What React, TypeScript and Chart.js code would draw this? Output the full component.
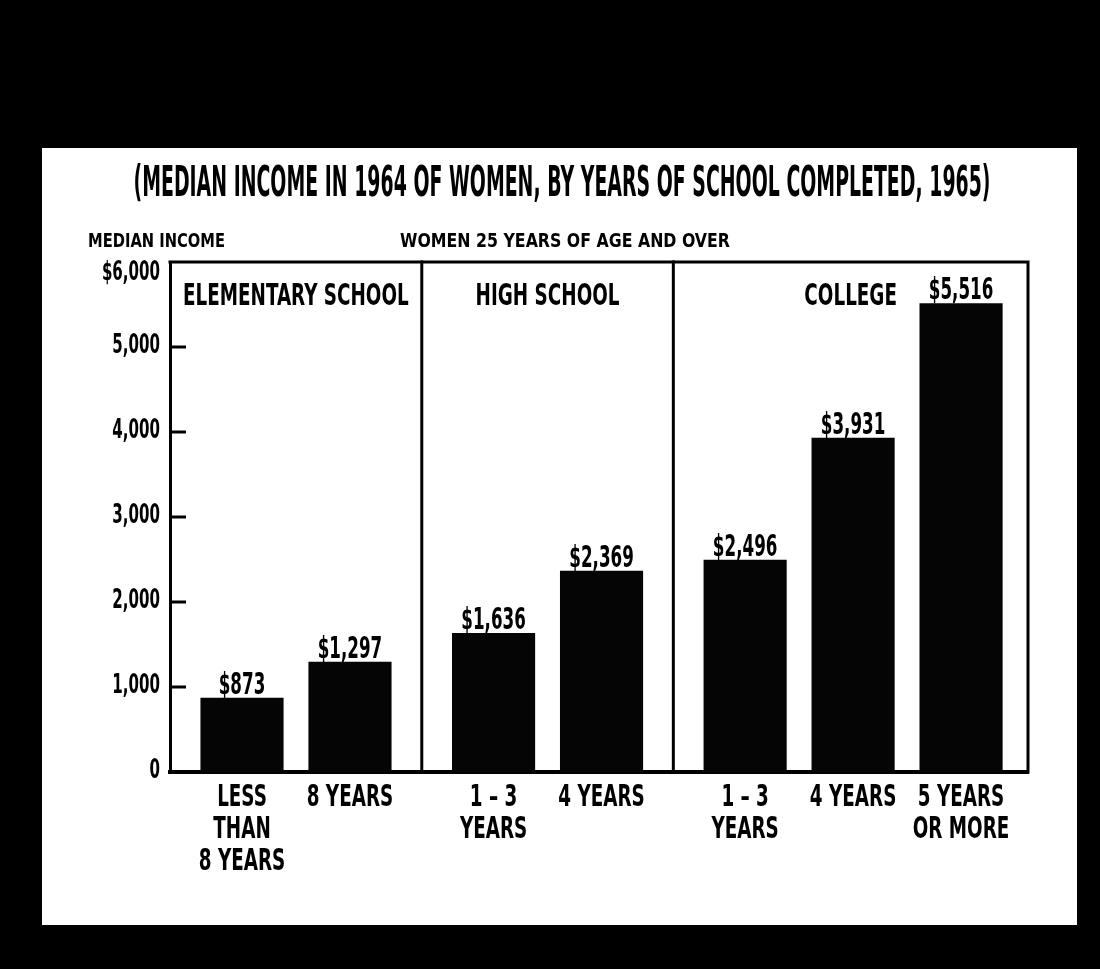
import React, { useEffect, useRef } from "react";
import { Chart, registerables } from "chart.js";

Chart.register(...registerables);

const TITLE = "(MEDIAN INCOME IN 1964 OF WOMEN, BY YEARS OF SCHOOL COMPLETED, 1965)";
const Y_AXIS_TITLE = "MEDIAN INCOME";
const SUBTITLE = "WOMEN 25 YEARS OF AGE AND OVER";
const GROUP_NAMES = ["ELEMENTARY SCHOOL", "HIGH SCHOOL", "COLLEGE"];
const CATEGORY_GROUP = [0, 0, 1, 1, 2, 2, 2];
const CATEGORY_LABELS = [
  ["LESS", "THAN", "8 YEARS"],
  ["8 YEARS"],
  ["1 – 3", "YEARS"],
  ["4 YEARS"],
  ["1 – 3", "YEARS"],
  ["4 YEARS"],
  ["5 YEARS", "OR MORE"],
];
const INCOME = [873, 1297, 1636, 2369, 2496, 3931, 5516];
const VALUE_LABELS = ["$873", "$1,297", "$1,636", "$2,369", "$2,496", "$3,931", "$5,516"];
const Y_TICKS = [0, 1000, 2000, 3000, 4000, 5000, 6000];
const Y_TICK_LABELS = ["0", "1,000", "2,000", "3,000", "4,000", "5,000", "$6,000"];

const GROUP_GAP = 0.33;
const FONT = '"Liberation Sans Narrow", "DejaVu Sans Condensed", "Liberation Sans", sans-serif';

const xPos = CATEGORY_GROUP.map((g, i) => i + g * GROUP_GAP);

function drawText(
  ctx: CanvasRenderingContext2D,
  text: string,
  x: number,
  y: number,
  size: number,
  align: CanvasTextAlign,
  sx = 1,
  width?: number
) {
  ctx.save();
  ctx.font = `bold ${size}px ${FONT}`;
  const w = ctx.measureText(text).width;
  const s = width ? width / w : sx;
  ctx.translate(x, y);
  ctx.scale(s, 1);
  ctx.textAlign = align;
  ctx.textBaseline = "alphabetic";
  ctx.fillStyle = "#000";
  ctx.fillText(text, 0, 0);
  ctx.restore();
}

const decorPlugin = {
  id: "decor",
  afterDatasetsDraw(chart: any) {
    const ctx: CanvasRenderingContext2D = chart.ctx;
    const { left, right, top, bottom } = chart.chartArea;
    const xs = chart.scales.x;
    const ys = chart.scales.y;

    // titles
    drawText(ctx, TITLE, 562, 196, 42, "center", 1, 857);
    drawText(ctx, Y_AXIS_TITLE, 88, 247, 19, "left", 1, 137);
    drawText(ctx, SUBTITLE, 400, 247, 19, "left", 1, 330);

    ctx.save();
    ctx.strokeStyle = "#000";
    ctx.lineCap = "square";
    // frame top and right
    ctx.lineWidth = 3;
    ctx.beginPath();
    ctx.moveTo(left, top);
    ctx.lineTo(right, top);
    ctx.lineTo(right, bottom);
    ctx.stroke();

    // group dividers
    const bounds: number[] = [left];
    for (let g = 1; g < GROUP_NAMES.length; g++) {
      const lastPrev = CATEGORY_GROUP.lastIndexOf(g - 1);
      const firstNext = CATEGORY_GROUP.indexOf(g);
      const px = xs.getPixelForValue((xPos[lastPrev] + xPos[firstNext]) / 2);
      bounds.push(px);
      ctx.beginPath();
      ctx.moveTo(px, top);
      ctx.lineTo(px, bottom);
      ctx.stroke();
    }
    bounds.push(right);

    // inner tick marks
    ctx.lineWidth = 3;
    ctx.lineCap = "butt";
    Y_TICKS.forEach((v) => {
      if (v === 0 || v === Y_TICKS[Y_TICKS.length - 1]) return;
      const py = ys.getPixelForValue(v);
      ctx.beginPath();
      ctx.moveTo(left, py);
      ctx.lineTo(left + 16, py);
      ctx.stroke();
    });
    ctx.restore();

    // y tick labels
    Y_TICKS.forEach((v, i) => {
      const py = ys.getPixelForValue(v);
      const base = Math.max(py + 6, top + 18);
      drawText(ctx, Y_TICK_LABELS[i], left - 10, base, 27, "right", 0.62);
    });

    // x category labels
    xPos.forEach((p, i) => {
      const px = xs.getPixelForValue(p);
      CATEGORY_LABELS[i].forEach((line, j) => {
        drawText(ctx, line, px, bottom + 34 + j * 32, 30, "center", 0.68);
      });
    });

    // group labels
    GROUP_NAMES.forEach((name, g) => {
      drawText(ctx, name, (bounds[g] + bounds[g + 1]) / 2, top + 43, 30, "center", 0.68);
    });

    // value labels
    const meta = chart.getDatasetMeta(0);
    meta.data.forEach((bar: any, i: number) => {
      drawText(ctx, VALUE_LABELS[i], bar.x, bar.y - 4, 31, "center", 0.6);
    });
  },
};

export default function App() {
  const ref = useRef<HTMLCanvasElement>(null);

  useEffect(() => {
    if (!ref.current) return;
    const chart = new Chart(ref.current, {
      type: "bar",
      data: {
        datasets: [
          {
            data: INCOME.map((v, i) => ({ x: xPos[i], y: v })),
            backgroundColor: "#050505",
            borderWidth: 0,
            barPercentage: 0.77,
            categoryPercentage: 1,
          },
        ],
      },
      options: {
        animation: false,
        responsive: false,
        devicePixelRatio: 1,
        layout: { padding: { left: 90, top: 262, right: 72, bottom: 20 } },
        plugins: {
          legend: { display: false },
          title: { display: false },
          tooltip: { enabled: false },
        },
        scales: {
          x: {
            type: "linear",
            min: -0.667,
            max: 7.28,
            offset: false,
            grid: { display: false },
            border: { display: true, color: "#000", width: 4 },
            afterBuildTicks: (scale: any) => {
              scale.ticks = xPos.map((v) => ({ value: v }));
            },
            afterFit: (scale: any) => {
              scale.height = 177;
            },
            ticks: { display: false },
          },
          y: {
            min: 0,
            max: 6000,
            grid: { display: false },
            border: { display: true, color: "#000", width: 3 },
            afterBuildTicks: (scale: any) => {
              scale.ticks = Y_TICKS.map((v) => ({ value: v }));
            },
            afterFit: (scale: any) => {
              scale.width = 80;
            },
            ticks: { display: false },
          },
        },
      },
      plugins: [decorPlugin],
    } as any);
    return () => chart.destroy();
  }, []);

  return (
    <div
      style={{
        position: "fixed",
        left: 0,
        top: 0,
        width: 1100,
        height: 969,
        background: "#000",
        overflow: "hidden",
      }}
    >
      <div
        style={{
          position: "absolute",
          left: 42,
          top: 148,
          width: 1035,
          height: 777,
          background: "#fff",
        }}
      />
      <canvas
        ref={ref}
        width={1100}
        height={969}
        style={{ position: "absolute", left: 0, top: 0 }}
      />
    </div>
  );
}
